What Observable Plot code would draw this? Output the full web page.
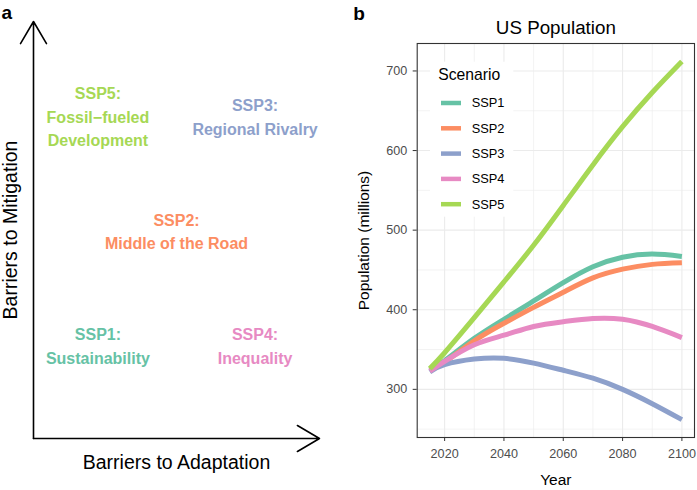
<!DOCTYPE html>
<html><head><meta charset="utf-8">
<script src="https://cdn.jsdelivr.net/npm/d3@7"></script>
<script src="https://cdn.jsdelivr.net/npm/@observablehq/plot@0.6"></script>
<style>
body{margin:0;background:#fff;}
#wrap{position:relative;width:697px;height:490px;overflow:hidden;font-family:"Liberation Sans",Arial,sans-serif;}
#wrap > *{position:absolute;top:0;}
</style></head><body><div id="wrap"></div>
<script>
// ---- data ----
const scenarios = ["SSP1", "SSP2", "SSP3", "SSP4", "SSP5"];
const scenarioColors = ["#66C2A5", "#FC8D62", "#8DA0CB", "#E78AC3", "#A6D854"];
const scenarioNames = ["Sustainability", "Middle of the Road", "Regional Rivalry", "Inequality", "Fossil\u2212fueled\nDevelopment"];
const adaptationBarrier = [1, 2, 3, 3, 1];   // low / mid / high
const mitigationBarrier = [1, 2, 3, 1, 3];
const conceptExtent = [0.18, 3.82];

const years = [2015, 2020, 2030, 2040, 2050, 2060, 2070, 2080, 2090, 2100];
const ssp1 = [324, 336, 364, 388, 411, 434, 454, 466, 470, 467];
const ssp2 = [324, 334, 361, 383, 403, 422, 440, 451, 457, 459];
const ssp3 = [322, 331, 338, 339, 333, 324, 314, 300, 282, 262];
const ssp4 = [323, 335, 356, 368, 379, 385, 389, 388, 379, 365];
const ssp5 = [326, 346, 390, 435, 481, 531, 582, 630, 673, 712];
const seriesValues = [ssp1, ssp2, ssp3, ssp4, ssp5];

const yearTicks = [2020, 2040, 2060, 2080, 2100];
const yearMinor = [2030, 2050, 2070, 2090];
const popTicks = [300, 400, 500, 600, 700];
const popMinor = [250, 350, 450, 550, 650];

const FONT = "'Liberation Sans', Arial, sans-serif";
const wrap = document.getElementById("wrap");

// ---- panel a ----
const conceptRows = scenarios.map((s, i) => ({
  label: `${s}:\n${scenarioNames[i]}`, x: adaptationBarrier[i], y: mitigationBarrier[i], scenario: s
}));
const [lo, hi] = conceptExtent;
const axesArrows = [{x1: lo, y1: lo, x2: lo, y2: hi}, {x1: lo, y1: lo, x2: hi, y2: lo}];

const panelA = Plot.plot({
  width: 340, height: 490,
  marginLeft: 33, marginRight: 21, marginTop: 21, marginBottom: 52,
  x: {domain: conceptExtent, axis: null},
  y: {domain: conceptExtent, axis: null},
  color: {domain: scenarios, range: scenarioColors},
  style: {fontFamily: FONT, background: "transparent", overflow: "visible"},
  marks: [
    Plot.arrow(axesArrows, {x1: "x1", y1: "y1", x2: "x2", y2: "y2", stroke: "black", strokeWidth: 1.6, headLength: 24, headAngle: 61}),
    Plot.text(conceptRows, {x: "x", y: "y", text: "label", fill: "scenario", fontSize: 16, fontWeight: "bold", lineHeight: 1.47}),
    Plot.text(["Barriers to Adaptation"], {frameAnchor: "bottom", textAnchor: "middle", lineAnchor: "bottom", dy: 30, fontSize: 19.5, fill: "black"}),
    Plot.text(["Barriers to Mitigation"], {frameAnchor: "left", textAnchor: "middle", rotate: -90, lineAnchor: "bottom", dx: -16.5, fontSize: 19.5, fill: "black"}),
    Plot.text(["a"], {frameAnchor: "top-left", textAnchor: "start", lineAnchor: "bottom", dx: -32, dy: -2.7, fontSize: 19, fontWeight: "bold", fill: "black"})
  ]
});
panelA.style.left = "0px";
wrap.appendChild(panelA);

// ---- panel b ----
const popRows = scenarios.flatMap((s, i) => years.map((yr, j) => ({scenario: s, year: yr, pop: seriesValues[i][j]})));
const panelB = Plot.plot({
  width: 357, height: 490,
  marginLeft: 76.7, marginRight: 3, marginTop: 43, marginBottom: 53,
  x: {domain: [2010.75, 2104.25]},
  y: {domain: [239.5, 734.5]},
  color: {domain: scenarios, range: scenarioColors},
  style: {fontFamily: FONT, background: "transparent", overflow: "visible"},
  marks: [
    Plot.gridX(yearMinor, {stroke: "#EBEBEB", strokeOpacity: 1, strokeWidth: 0.6}),
    Plot.gridY(popMinor, {stroke: "#EBEBEB", strokeOpacity: 1, strokeWidth: 0.6}),
    Plot.gridX(yearTicks, {stroke: "#EBEBEB", strokeOpacity: 1, strokeWidth: 1.1}),
    Plot.gridY(popTicks, {stroke: "#EBEBEB", strokeOpacity: 1, strokeWidth: 1.1}),
    Plot.line(popRows, {x: "year", y: "pop", z: "scenario", stroke: "scenario", strokeWidth: 5, strokeLinecap: "butt", curve: "natural"}),
    Plot.frame({stroke: "#333333", strokeWidth: 1.1}),
    Plot.axisX(yearTicks, {tickSize: 4, tickPadding: 8, tickFormat: d => String(d), stroke: "#333333", fill: "#4D4D4D", fontSize: 12.6, label: null}),
    Plot.axisY(popTicks, {tickSize: 4, tickPadding: 6, tickFormat: d => String(d), stroke: "#333333", fill: "#4D4D4D", fontSize: 12.6, label: null}),
    Plot.text(["US Population"], {frameAnchor: "top", lineAnchor: "bottom", dy: -9.7, fontSize: 18.8, fill: "black"}),
    Plot.text(["Year"], {frameAnchor: "bottom", textAnchor: "middle", lineAnchor: "bottom", dy: 47.5, fontSize: 15.5, fill: "black"}),
    Plot.text(["Population (millions)"], {frameAnchor: "left", textAnchor: "middle", rotate: -90, lineAnchor: "bottom", dx: -48.7, fontSize: 15.5, fill: "black"}),
    Plot.text(["b"], {frameAnchor: "top-left", textAnchor: "start", lineAnchor: "bottom", dx: -64, dy: -24, fontSize: 19, fontWeight: "bold", fill: "black"})
  ]
});
panelB.style.left = "340px";
wrap.appendChild(panelB);

// ---- legend (inside panel b) ----
const leg = d3.select(wrap).append("svg")
  .attr("width", 697).attr("height", 490)
  .style("left", "0px").style("pointer-events", "none")
  .style("font-family", FONT);
leg.append("rect").attr("x", 430).attr("y", 61.7).attr("width", 83.3).attr("height", 155).attr("fill", "white");
leg.append("text").attr("x", 438.3).attr("y", 80).attr("font-size", 15.7).attr("fill", "black").text("Scenario");
const items = leg.selectAll("g.item").data(scenarios).join("g")
  .attr("transform", (d, i) => `translate(0,${103 + 25.3 * i})`);
items.append("line").attr("x1", 441).attr("x2", 461).attr("y1", 0).attr("y2", 0)
  .attr("stroke", (d, i) => scenarioColors[i]).attr("stroke-width", 4.5);
items.append("text").attr("x", 471.7).attr("y", 0).attr("dy", "0.35em")
  .attr("font-size", 12.8).attr("fill", "black").text(d => d);
</script></body></html>
